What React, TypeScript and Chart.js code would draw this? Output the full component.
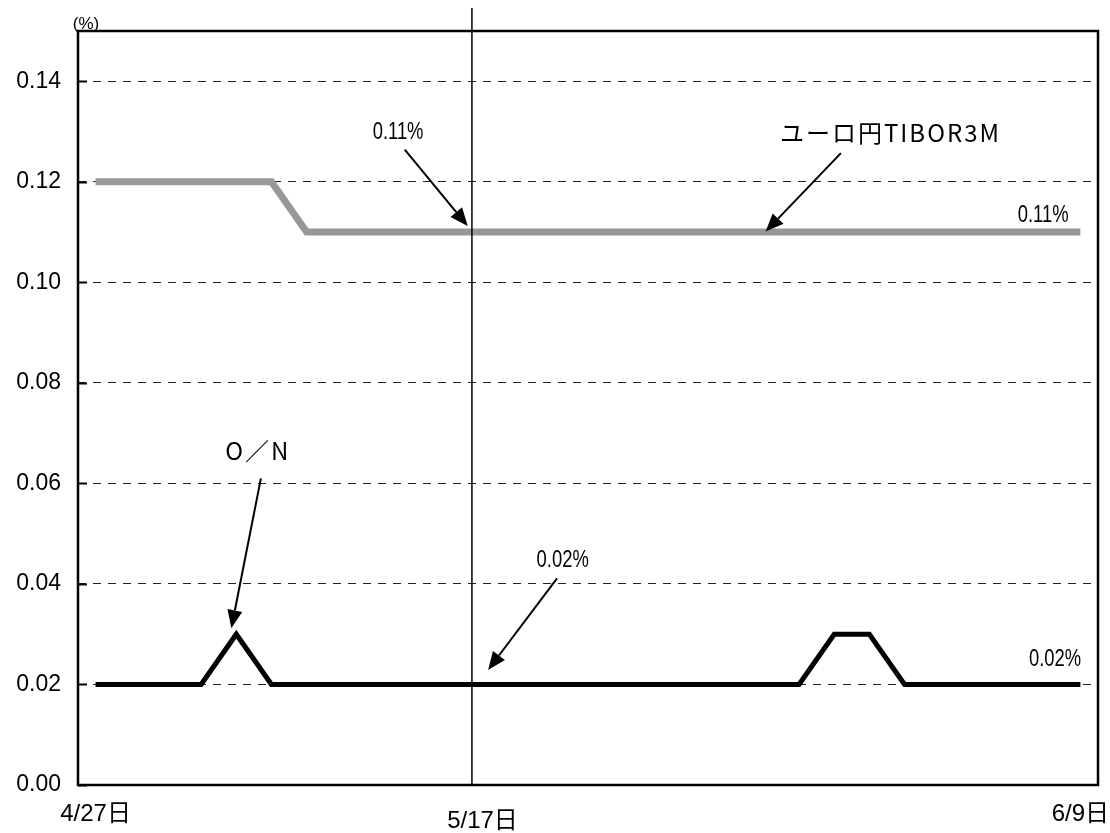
import React, { useEffect, useRef } from "react";
import { Chart, registerables } from "chart.js";

Chart.register(...registerables);

// Category axis (business days 4/27 .. 6/9); only three dates are labelled
const categories: string[] = [
  "4/27日", "", "", "", "", "", "", "", "", "", "",
  "5/17日", "", "", "", "", "", "", "", "", "", "",
  "", "", "", "", "", "", "6/9日",
];

const tiborValues: number[] = [
  0.12, 0.12, 0.12, 0.12, 0.12, 0.12, 0.11, 0.11, 0.11, 0.11, 0.11,
  0.11, 0.11, 0.11, 0.11, 0.11, 0.11, 0.11, 0.11, 0.11, 0.11, 0.11,
  0.11, 0.11, 0.11, 0.11, 0.11, 0.11, 0.11,
];

const onValues: number[] = [
  0.02, 0.02, 0.02, 0.02, 0.03, 0.02, 0.02, 0.02, 0.02, 0.02, 0.02,
  0.02, 0.02, 0.02, 0.02, 0.02, 0.02, 0.02, 0.02, 0.02, 0.02, 0.03,
  0.03, 0.02, 0.02, 0.02, 0.02, 0.02, 0.02,
];

const seriesNames: string[] = ["ユーロ円TIBOR3M", "O／N"];

const yTickValues: number[] = [0, 0.02, 0.04, 0.06, 0.08, 0.1, 0.12, 0.14];
const yMin = 0;
const yMax = 0.15;
const yUnit = "(%)";

// Annotation texts in data coordinates (category index, value)
const noteTexts: string[] = ["0.11%", "ユーロ円TIBOR3M", "0.11%", "O／N", "0.02%", "0.02%"];
const noteX: number[] = [8.6, 22.6, 26.94, 4.61, 13.28, 27.28];
const noteY: number[] = [0.1297, 0.1297, 0.1133, 0.0665, 0.0446, 0.0249];
const noteKind: string[] = ["pct", "jp", "pct", "jp", "pct", "pct"];

// Arrows (from -> to) in data coordinates
const arrowFromX: number[] = [8.79, 21.19, 4.7, 13.12];
const arrowFromY: number[] = [0.1264, 0.1257, 0.061, 0.0411];
const arrowToX: number[] = [10.58, 19.05, 3.86, 11.16];
const arrowToY: number[] = [0.1112, 0.1101, 0.0312, 0.0229];

// Vertical marker line at 5/17
const markerX = 10.7;
const markerTopValue = 0.1546;

const LATIN = '"Liberation Sans", Arial, "Noto Sans CJK JP", sans-serif';
const JP = '"Noto Sans CJK JP", "Liberation Sans", sans-serif';

function drawArrow(ctx: CanvasRenderingContext2D, x1: number, y1: number, x2: number, y2: number) {
  const ang = Math.atan2(y2 - y1, x2 - x1);
  const headLen = 18;
  const headHalf = 7.5;
  const bx = x2 - headLen * Math.cos(ang);
  const by = y2 - headLen * Math.sin(ang);
  ctx.save();
  ctx.strokeStyle = "#000";
  ctx.fillStyle = "#000";
  ctx.lineWidth = 2;
  ctx.beginPath();
  ctx.moveTo(x1, y1);
  ctx.lineTo(bx, by);
  ctx.stroke();
  ctx.beginPath();
  ctx.moveTo(x2, y2);
  ctx.lineTo(bx + headHalf * Math.sin(ang), by - headHalf * Math.cos(ang));
  ctx.lineTo(bx - headHalf * Math.sin(ang), by + headHalf * Math.cos(ang));
  ctx.closePath();
  ctx.fill();
  ctx.restore();
}

const overlayPlugin = {
  id: "overlay",
  beforeDatasetsDraw(chart: any) {
    const { ctx, chartArea, scales } = chart;
    const y = scales.y;
    ctx.save();
    ctx.strokeStyle = "#000";
    ctx.lineWidth = 2;
    yTickValues.forEach((v) => {
      const py = Math.round(y.getPixelForValue(v)) + 0.5;
      ctx.beginPath();
      ctx.moveTo(chartArea.left, py);
      ctx.lineTo(chartArea.left + 9, py);
      ctx.stroke();
    });
    ctx.restore();
  },
  afterDraw(chart: any) {
    const { ctx, chartArea, scales } = chart;
    const x = scales.x;
    const y = scales.y;
    ctx.save();
    // frame
    ctx.strokeStyle = "#000";
    ctx.lineWidth = 2.5;
    ctx.strokeRect(chartArea.left, chartArea.top, chartArea.right - chartArea.left, chartArea.bottom - chartArea.top);

    // vertical marker line
    const mx = x.getPixelForValue(markerX);
    ctx.lineWidth = 1.5;
    ctx.beginPath();
    ctx.moveTo(mx, y.getPixelForValue(markerTopValue));
    ctx.lineTo(mx, y.getPixelForValue(yMin));
    ctx.stroke();

    // unit label
    ctx.fillStyle = "#000";
    ctx.font = "17px " + LATIN;
    ctx.textAlign = "center";
    ctx.textBaseline = "middle";
    ctx.fillText(yUnit, chartArea.left + 8, chartArea.top - 7);

    // annotation texts
    noteTexts.forEach((t, i) => {
      const px = x.getPixelForValue(noteX[i]);
      const py = y.getPixelForValue(noteY[i]);
      ctx.save();
      ctx.textAlign = "center";
      ctx.textBaseline = "middle";
      if (noteKind[i] === "pct") {
        ctx.font = "23px " + LATIN;
        ctx.translate(px, py);
        ctx.scale(0.8, 1);
        ctx.fillText(t, 0, 0);
      } else {
        ctx.font = "24px " + JP;
        (ctx as any).letterSpacing = "2px";
        ctx.fillText(t, px, py);
      }
      ctx.restore();
    });

    // arrows
    arrowFromX.forEach((_, i) => {
      drawArrow(
        ctx,
        x.getPixelForValue(arrowFromX[i]),
        y.getPixelForValue(arrowFromY[i]),
        x.getPixelForValue(arrowToX[i]),
        y.getPixelForValue(arrowToY[i])
      );
    });
    ctx.restore();
  },
};

export default function App() {
  const canvasRef = useRef<HTMLCanvasElement | null>(null);

  useEffect(() => {
    document.body.style.margin = "0";
    const canvas = canvasRef.current;
    if (!canvas) return;
    const chart = new Chart(canvas, {
      type: "line",
      data: {
        labels: categories,
        datasets: [
          {
            label: seriesNames[0],
            data: tiborValues,
            borderColor: "#989898",
            borderWidth: 7,
            pointRadius: 0,
            tension: 0,
            borderJoinStyle: "miter",
            borderCapStyle: "butt",
            fill: false,
          },
          {
            label: seriesNames[1],
            data: onValues,
            borderColor: "#000000",
            borderWidth: 5,
            pointRadius: 0,
            tension: 0,
            borderJoinStyle: "miter",
            borderCapStyle: "butt",
            fill: false,
          },
        ],
      },
      options: {
        responsive: false,
        animation: false,
        events: [],
        layout: { padding: { top: 31, right: 12, left: 0, bottom: 0 } },
        plugins: {
          legend: { display: false },
          tooltip: { enabled: false },
          title: { display: false },
        },
        scales: {
          x: {
            type: "category",
            offset: true,
            grid: { display: false, drawTicks: false },
            border: { display: false },
            afterFit: (s: any) => {
              s.height = 48;
              s.paddingLeft = 0;
              s.paddingRight = 0;
            },
            ticks: {
              autoSkip: false,
              maxRotation: 0,
              minRotation: 0,
              padding: 16,
              color: "#000",
              font: (c: any) => ({
                family: LATIN,
                size: 24,
                lineHeight: c.index === 11 ? 1.7 : 1.12,
              }),
            },
          },
          y: {
            min: yMin,
            max: yMax,
            afterFit: (s: any) => {
              s.width = 78;
              s.paddingTop = 0;
              s.paddingBottom = 0;
            },
            afterBuildTicks: (s: any) => {
              s.ticks = yTickValues.map((v) => ({ value: v }));
            },
            grid: {
              drawTicks: false,
              lineWidth: 1,
              color: (c: any) =>
                c.tick && c.tick.value > 0.001 && c.tick.value < 0.149 ? "#222" : "rgba(0,0,0,0)",
            },
            border: { display: false, dash: [8, 7] },
            ticks: {
              padding: 17,
              color: "#000",
              font: { family: LATIN, size: 23 },
              callback: (v: any) => Number(v).toFixed(2),
            },
          },
        },
      },
      plugins: [overlayPlugin],
    } as any);
    return () => {
      chart.destroy();
    };
  }, []);

  return (
    <div style={{ width: 1110, height: 833, background: "#fff" }}>
      <canvas ref={canvasRef} width={1110} height={833} style={{ display: "block" }} />
    </div>
  );
}
